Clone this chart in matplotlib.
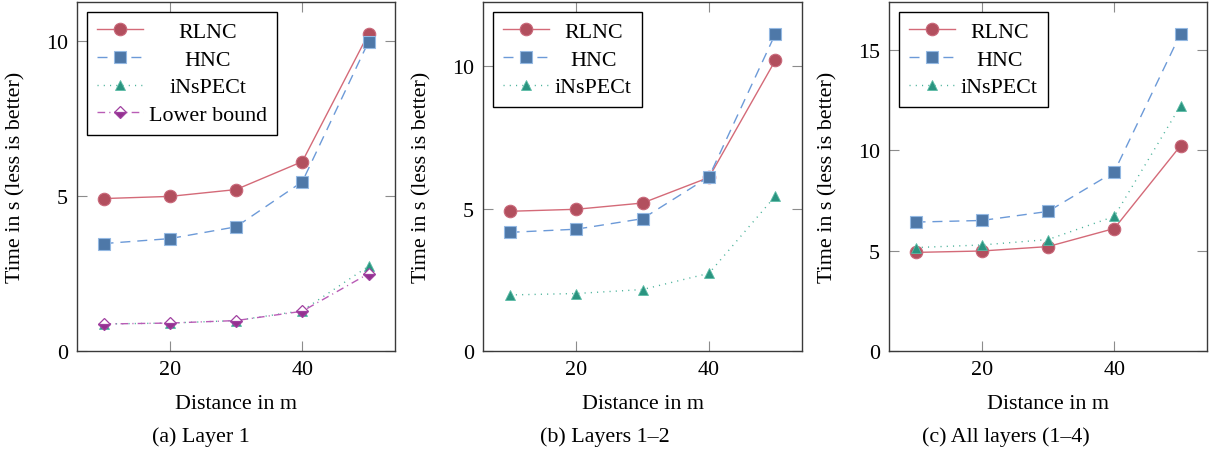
import matplotlib
matplotlib.use("Agg")
import matplotlib.pyplot as plt

plt.rcParams['font.family'] = ['Liberation Serif', 'DejaVu Serif']

distance = [10, 20, 30, 40, 50]

# Panel (a) Layer 1
a_rlnc = [4.91, 4.98, 5.20, 6.10, 10.22]
a_hnc = [3.46, 3.62, 4.00, 5.45, 9.96]
a_inspect = [0.87, 0.90, 0.98, 1.30, 2.73]
a_lower = [0.87, 0.90, 0.98, 1.28, 2.49]

# Panel (b) Layers 1-2
b_rlnc = [4.91, 4.98, 5.20, 6.10, 10.22]
b_hnc = [4.17, 4.28, 4.65, 6.12, 11.15]
b_inspect = [1.97, 2.02, 2.16, 2.73, 5.45]

# Panel (c) All layers
c_rlnc = [4.91, 4.98, 5.20, 6.10, 10.22]
c_hnc = [6.42, 6.50, 6.95, 8.92, 15.80]
c_inspect = [5.15, 5.28, 5.55, 6.70, 12.21]

xticks = [20, 40]
yticks_ab = [0, 5, 10]
yticks_c = [0, 5, 10, 15]
captions = ["(a) Layer 1", "(b) Layers 1\u20132", "(c) All layers (1\u20134)"]
xlabel = "Distance in m"
ylabel = "Time in s (less is better)"

FS = 15.8
W, H = 1211, 456
fig = plt.figure(figsize=(W / 100, H / 100), dpi=100)

styles = {
    'RLNC': dict(color='#d46a78', lw=1.0, ls='-', marker='o', ms=9.0,
                 mfc='#b24f5e', mec='#c9687a', mew=0.8),
    'HNC': dict(color='#6c9ad8', lw=1.0, ls=(0, (7.2, 5)), marker='s', ms=8.5,
                mfc='#4e78a8', mec='#94b9e3', mew=0.8),
    'iNsPECt': dict(color='#4cb39b', lw=1.0, ls=(0, (0.8, 3.7)), marker='^', ms=7.5,
                    mfc='#2a9480', mec='#5cbca6', mew=0.6),
    'Lower bound': dict(color='#b95cb6', lw=1.0, ls=(0, (5.5, 3, 0.8, 3)), marker='D', ms=6.5,
                        mfc='#93308f', mfcalt='white', mec='#a040a0', mew=0.9, fillstyle='bottom'),
}

panels = [
    (77, 395, [('RLNC', a_rlnc), ('HNC', a_hnc), ('iNsPECt', a_inspect), ('Lower bound', a_lower)], yticks_ab, 201),
    (483, 802, [('RLNC', b_rlnc), ('HNC', b_hnc), ('iNsPECt', b_inspect)], yticks_ab, 605),
    (889, 1207, [('RLNC', c_rlnc), ('HNC', c_hnc), ('iNsPECt', c_inspect)], yticks_c, 1006),
]
top_px, bot_px = 3, 352

legends = []
for i, (l, r, series, yt, capx) in enumerate(panels):
    ax = fig.add_axes([l / W, 1 - bot_px / H, (r - l) / W, (bot_px - top_px) / H])
    ymax = 0
    for name, vals in series:
        st = dict(styles[name])
        mfcalt = st.pop('mfcalt', None)
        line, = ax.plot(distance, vals, label=name, **st)
        if mfcalt:
            line.set_markerfacecoloralt(mfcalt)
        ymax = max(ymax, max(vals))
    ax.set_xlim(6, 54)
    ax.set_ylim(0, ymax * 1.1)
    ax.set_xticks(xticks)
    ax.set_yticks(yt)
    ax.tick_params(direction='in', length=7.5, width=0.8, color='#8c8c8c',
                   top=True, right=True, labelsize=FS, pad=6.5)
    for sp in ax.spines.values():
        sp.set_color('#3a3a3a')
        sp.set_linewidth(1.0)
    ax.set_xlabel(xlabel, fontsize=FS, labelpad=11)
    ax.set_ylabel(ylabel, fontsize=FS, va='center')
    ax.yaxis.set_label_coords(-61 / (r - l), 0.5)
    leg = ax.legend(loc='upper left', fontsize=FS, frameon=True, fancybox=False,
                    framealpha=1, edgecolor='black', borderaxespad=0.45,
                    handlelength=2.1, handletextpad=0.27, borderpad=0.45,
                    labelspacing=0.33, numpoints=1)
    leg.get_frame().set_linewidth(1.0)
    legends.append(leg)
    fig.text(capx / W, 1 - 437 / H, captions[i], fontsize=FS, ha='center', va='center')

# center legend cell text (pgfplots legend cell align=center)
fig.canvas.draw()
renderer = fig.canvas.get_renderer()
for leg in legends:
    texts = leg.get_texts()
    widths = [t.get_window_extent(renderer).width for t in texts]
    mw = max(widths)
    for t, w in zip(texts, widths):
        t.set_x((mw - w) / 2)

fig.savefig("out.png", dpi=100)
